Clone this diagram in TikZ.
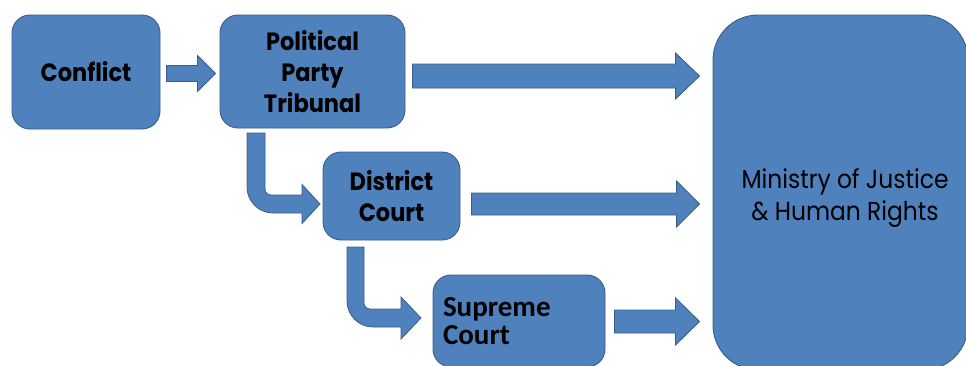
\documentclass[tikz,border=0pt]{standalone}
\usepackage{fontspec}
\newfontfamily\twfont[FakeStretch=0.9]{Poppins}
\newfontfamily\calfont{Carlito}
\usetikzlibrary{calc}
\definecolor{boxblue}{HTML}{4F81BD}
\definecolor{edgeblue}{HTML}{385D8A}
% straight block arrow: from anchor, to anchor, start gap, end gap, centre y, shaft half, head half, head length
\newcommand\sarrow[8]{\path[blk] let \p1=(#1), \p2=(#2), \n1={\x1+#3}, \n2={\x2-#4}, \n3={\x2-#4-#8} in
 (\n1,#5-#6) -- (\n3,#5-#6) -- (\n3,#5-#7) -- (\n2,#5) -- (\n3,#5+#7) -- (\n3,#5+#6) -- (\n1,#5+#6) -- cycle;}
% bent block arrow: xl, xr, ytop, yc, shaft half, head half, head base x, tip x, outer radius
\newcommand\barrow[9]{\path[blk]
 (#1,#3) -- (#2,#3) -- (#2,#4-#5-6) .. controls (#2,#4-#5-2.7) and (#2+2.7,#4-#5) .. (#2+6,#4-#5)
 -- (#7,#4-#5) -- (#7,#4-#6) -- (#8,#4) -- (#7,#4+#6) -- (#7,#4+#5)
 -- (#1+#9,#4+#5) .. controls (#1+0.448*#9,#4+#5) and (#1,#4+#5-0.448*#9) .. (#1,#4+#5-#9) -- cycle;}
\begin{document}
\begin{tikzpicture}[x=1pt,y=-1pt,
 box/.style={draw=edgeblue, fill=boxblue, line width=0.9pt, rounded corners=18pt, inner sep=0pt, align=center, text=black},
 bold/.style={font=\twfont\bfseries\fontsize{25}{31}\selectfont},
 blk/.style={draw=edgeblue, fill=boxblue, line width=0.8pt, line join=miter}]
\useasboundingbox (0,0) rectangle (966,365);
\clip (0,0) rectangle (966,365);

\node[box, bold, minimum width=148pt, minimum height=114pt] (conf) at (86,72) {Conflict};
\node[box, bold, minimum width=185pt, minimum height=113pt] (ppt) at (312.5,71.5) {Political\\Party\\Tribunal};
\node[box, bold, minimum width=137pt, minimum height=88pt] (dc) at (391.5,196) {District\\Court};
\node[box, minimum width=172pt, minimum height=92pt, text width=152pt, align=left,
      font=\calfont\bfseries\fontsize{29}{28}\selectfont] (sc) at (519,321) {Supreme\\Court};
\node[box, rounded corners=45pt, minimum width=255pt, minimum height=355pt] (min) at (840.5,192.5) {};
\node[align=center, inner sep=0pt, text=black, font=\twfont\fontsize{26}{32}\selectfont]
      (mintext) at (845,198) {Ministry of Justice\\\& Human Rights};

\sarrow{conf.east}{ppt.west}{6}{4}{73.5}{8}{18}{18}
\sarrow{ppt.east}{min.west}{7}{13}{76}{12}{23}{24}
\sarrow{dc.east}{min.west}{11}{13}{204}{11}{23}{23}
\sarrow{sc.east}{min.west}{9}{13}{321.5}{11.5}{23.5}{24}

\barrow{247}{265}{133}{204}{9}{19.5}{302}{320}{26}
\barrow{347}{364}{247}{318}{9}{21}{401}{421}{26}
\end{tikzpicture}
\end{document}
